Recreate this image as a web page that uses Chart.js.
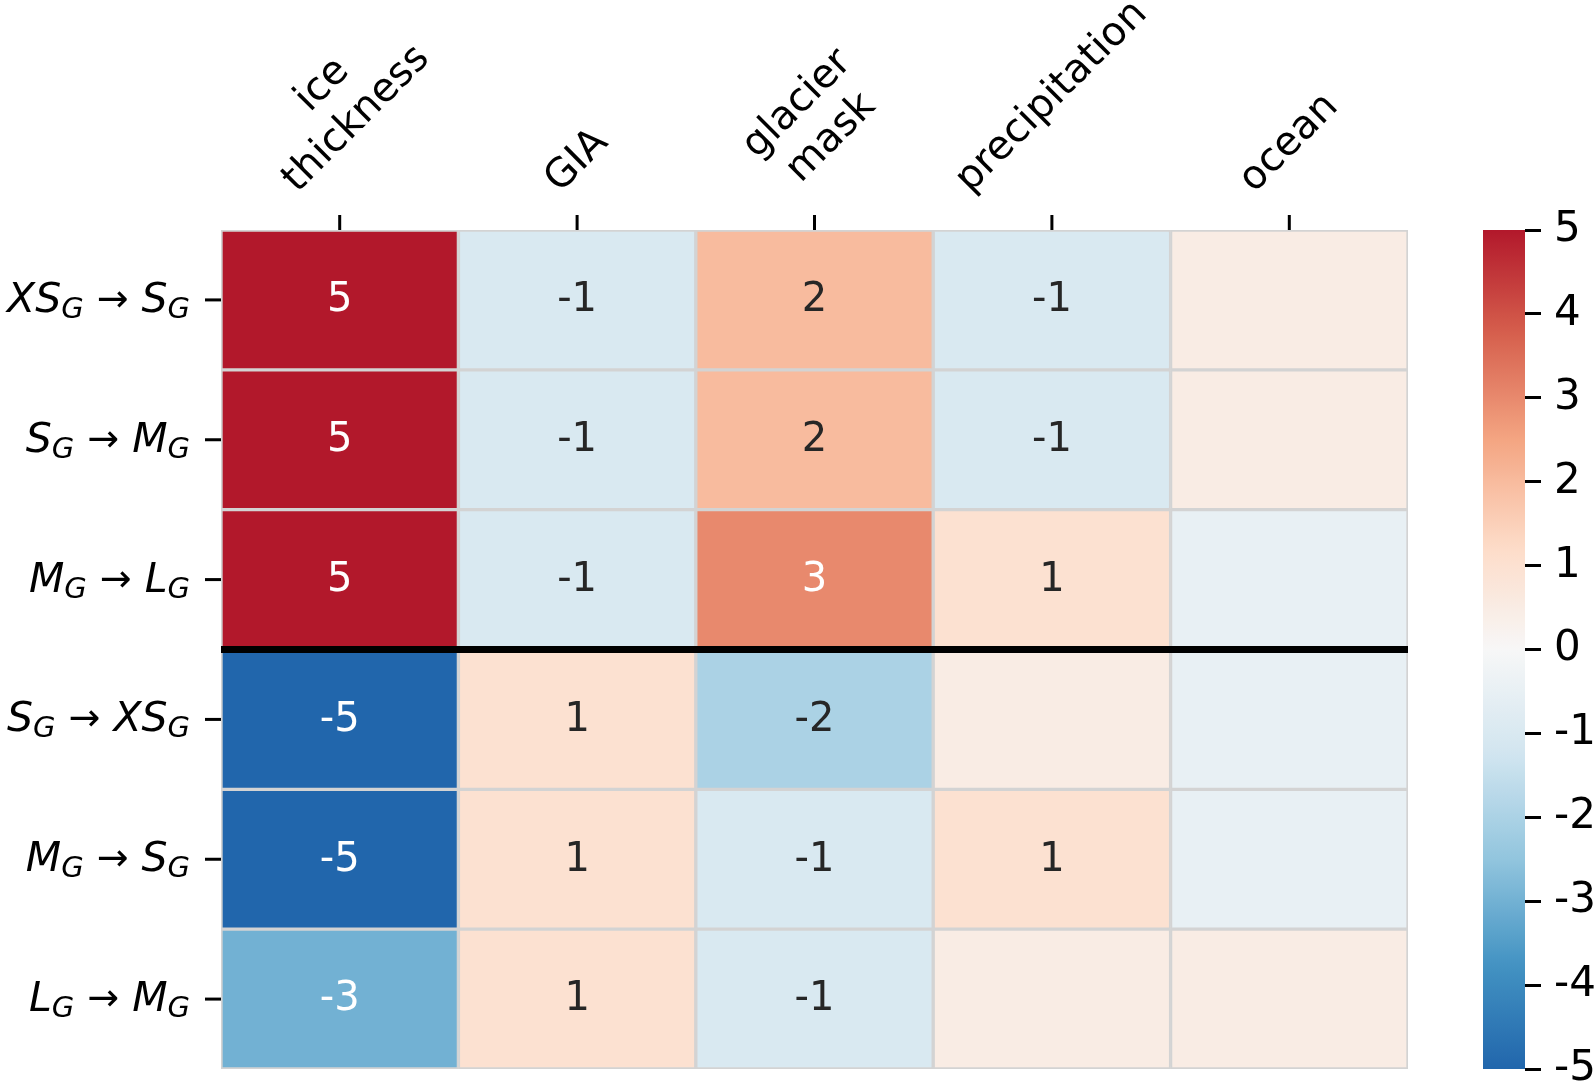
<!DOCTYPE html>
<html><head><meta charset="utf-8">
<script src="https://cdn.jsdelivr.net/npm/chart.js@4.4.0/dist/chart.umd.min.js"></script>
<style>
html,body{margin:0;padding:0;background:#fff;overflow:hidden;}
#wrap{position:relative;width:1594px;height:1087px;background:#fff;overflow:hidden;}
#heat{position:absolute;left:0;top:0;}
#cbar{position:absolute;left:1483px;top:0;}
</style></head><body>
<div id="wrap"><canvas id="heat" width="1594" height="1087"></canvas><canvas id="cbar" width="111" height="1200"></canvas></div>
<script>
// ---- data ----
const columns = ['ice\nthickness', 'GIA', 'glacier\nmask', 'precipitation', 'ocean'];
const rowFrom = ['XS', 'S', 'M', 'S', 'M', 'L'];
const rowTo   = ['S', 'M', 'L', 'XS', 'S', 'M'];
const rowSub = 'G';
const iceThickness  = [5, 5, 5, -5, -5, -3];
const gia           = [-1, -1, -1, 1, 1, 1];
const glacierMask   = [2, 2, 3, -2, -1, -1];
const precipitation = [-1, -1, 1, 0.5, 1, 0.5];
const ocean         = [0.5, 0.5, -0.5, -0.5, -0.5, 0.5];
const colorbarTicks = [5, 4, 3, 2, 1, 0, -1, -2, -3, -4, -5];
const vmin = -5, vmax = 5;
const splitAfterRow = 3;

const values = [iceThickness, gia, glacierMask, precipitation, ocean];

// ---- colour map (RdBu reversed, 0.1..0.9 range) ----
const RDBU = [[103,0,31],[178,24,43],[214,96,77],[244,165,130],[253,219,199],[247,247,247],[209,229,240],[146,197,222],[67,147,195],[33,102,172],[5,48,97]];
function rgbOf(v) {
  const t = 0.5 - 0.4 * (v / vmax);
  const p = Math.min(Math.max(t, 0), 1) * 10;
  const i = Math.min(Math.floor(p), 9), f = p - i;
  const a = RDBU[i], b = RDBU[i + 1];
  return [0, 1, 2].map(k => Math.round(a[k] + (b[k] - a[k]) * f));
}
function cmap(v) { const c = rgbOf(v); return `rgb(${c[0]},${c[1]},${c[2]})`; }
function lum(v) {
  const c = rgbOf(v).map(x => { x /= 255; return x <= 0.03928 ? x / 12.92 : Math.pow((x + 0.055) / 1.055, 2.4); });
  return 0.2126 * c[0] + 0.7152 * c[1] + 0.0722 * c[2];
}
function textColor(v) { return lum(v) > 0.408 ? '#262626' : '#ffffff'; }

Chart.defaults.font.family = '"DejaVu Sans"';
const FS = 40;      // annotations / column labels
const FS_ROW = 41;  // row labels
const FS_CB = 42;   // colorbar labels

const datasets = rowFrom.map((_, r) => ({
  data: columns.map(() => [r, r + 1]),
  backgroundColor: ctx => cmap(values[ctx.dataIndex][r]),
  borderColor: '#d3d3d3',
  borderWidth: 2,
  borderSkipped: false,
  barPercentage: 1,
  categoryPercentage: 1,
  grouped: false
}));

const heatDecor = {
  id: 'heatDecor',
  afterDatasetsDraw(chart) {
    const ctx = chart.ctx, xs = chart.scales.x, ys = chart.scales.y, ca = chart.chartArea;
    ctx.save();
    // annotations
    ctx.font = FS + 'px "DejaVu Sans"';
    ctx.textAlign = 'center';
    ctx.textBaseline = 'middle';
    chart.data.datasets.forEach((ds, r) => {
      chart.getDatasetMeta(r).data.forEach((el, c) => {
        const v = values[c][r];
        if (Math.abs(v) < 1) return;
        const p = el.getCenterPoint();
        ctx.fillStyle = textColor(v);
        ctx.fillText(String(Math.round(v)), p.x, p.y + 1);
      });
    });
    // separator line
    const ySep = ys.getPixelForValue(splitAfterRow);
    ctx.strokeStyle = '#000';
    ctx.lineWidth = 7;
    ctx.beginPath(); ctx.moveTo(ca.left, ySep); ctx.lineTo(ca.right, ySep); ctx.stroke();

    // column ticks + labels
    ctx.lineWidth = 3;
    ctx.fillStyle = '#000';
    ctx.font = FS + 'px "DejaVu Sans"';
    const lh = FS * 1.2;
    const bottom = ca.top - 27;
    columns.forEach((lab, j) => {
      const x = xs.getPixelForValue(j);
      ctx.beginPath(); ctx.moveTo(x, ca.top - 15); ctx.lineTo(x, ca.top); ctx.stroke();
      const lines = lab.split('\n');
      const W = Math.max(...lines.map(l => ctx.measureText(l).width));
      const H = lines.length * lh;
      const half = (W + H) * Math.SQRT1_2 / 2;
      ctx.save();
      ctx.translate(x, bottom - half);
      ctx.rotate(-Math.PI / 4);
      ctx.textAlign = 'center';
      ctx.textBaseline = 'middle';
      lines.forEach((l, k) => ctx.fillText(l, 0, (k - (lines.length - 1) / 2) * lh));
      ctx.restore();
    });

    // row ticks + labels
    const fMain = 'italic ' + FS_ROW + 'px "DejaVu Sans"';
    const fSub = 'italic ' + Math.round(FS_ROW * 0.7) + 'px "DejaVu Sans"';
    const fArrow = (FS_ROW - 3) + 'px "DejaVu Sans"';
    const gap = 13;
    rowFrom.forEach((from, r) => {
      const yc = ys.getPixelForValue(r + 0.5);
      ctx.beginPath(); ctx.moveTo(ca.left - 16, yc); ctx.lineTo(ca.left, yc); ctx.stroke();
      const parts = [
        { t: from, f: fMain, dy: 0 },
        { t: rowSub, f: fSub, dy: 6 },
        { t: '→', f: fArrow, dy: -1, pad: gap },
        { t: rowTo[r], f: fMain, dy: 0 },
        { t: rowSub, f: fSub, dy: 6 }
      ];
      let total = 0;
      parts.forEach(p => { ctx.font = p.f; p.w = ctx.measureText(p.t).width; total += p.w + (p.pad ? 2 * p.pad : 0); });
      let x = 190 - total;
      const base = yc + 12;
      ctx.textAlign = 'left';
      ctx.textBaseline = 'alphabetic';
      parts.forEach(p => {
        ctx.font = p.f;
        if (p.pad) x += p.pad;
        ctx.fillText(p.t, x, base + p.dy);
        x += p.w + (p.pad || 0);
      });
    });
    ctx.restore();
  }
};

new Chart(document.getElementById('heat'), {
  type: 'bar',
  data: { labels: columns, datasets },
  options: {
    responsive: false,
    animation: false,
    devicePixelRatio: 1,
    layout: { padding: { left: 221, right: 186, top: 230, bottom: 18 } },
    plugins: { legend: { display: false }, tooltip: { enabled: false } },
    scales: {
      x: { type: 'category', offset: true, display: false },
      y: { type: 'linear', min: 0, max: rowFrom.length, reverse: true, display: false }
    }
  },
  plugins: [heatDecor]
});

new Chart(document.getElementById('cbar'), {
  type: 'bar',
  data: {
    labels: ['scale'],
    datasets: [{
      data: [[vmin, vmax]],
      backgroundColor: ctx => {
        const ca = ctx.chart.chartArea;
        if (!ca) return null;
        const g = ctx.chart.ctx.createLinearGradient(0, ca.bottom, 0, ca.top);
        const n = 60;
        for (let i = 0; i <= n; i++) g.addColorStop(i / n, cmap(vmin + (vmax - vmin) * i / n));
        return g;
      },
      borderWidth: 0,
      barPercentage: 1,
      categoryPercentage: 1
    }]
  },
  options: {
    responsive: false,
    animation: false,
    devicePixelRatio: 1,
    layout: { padding: { left: 0, right: 0, top: 230, bottom: 131 } },
    plugins: { legend: { display: false }, tooltip: { enabled: false } },
    scales: {
      x: { display: false },
      y: {
        position: 'right', min: vmin, max: vmax,
        afterFit: s => { s.width = 69; },
        afterBuildTicks: s => { s.ticks = colorbarTicks.map(v => ({ value: v })); },
        ticks: { font: { family: '"DejaVu Sans"', size: FS_CB }, color: '#000', padding: 13, autoSkip: false, callback: v => String(v) },
        grid: { drawOnChartArea: false, drawTicks: true, tickLength: 16, tickWidth: 3, tickColor: '#000' },
        border: { display: false }
      }
    }
  }
});
</script>
</body></html>
